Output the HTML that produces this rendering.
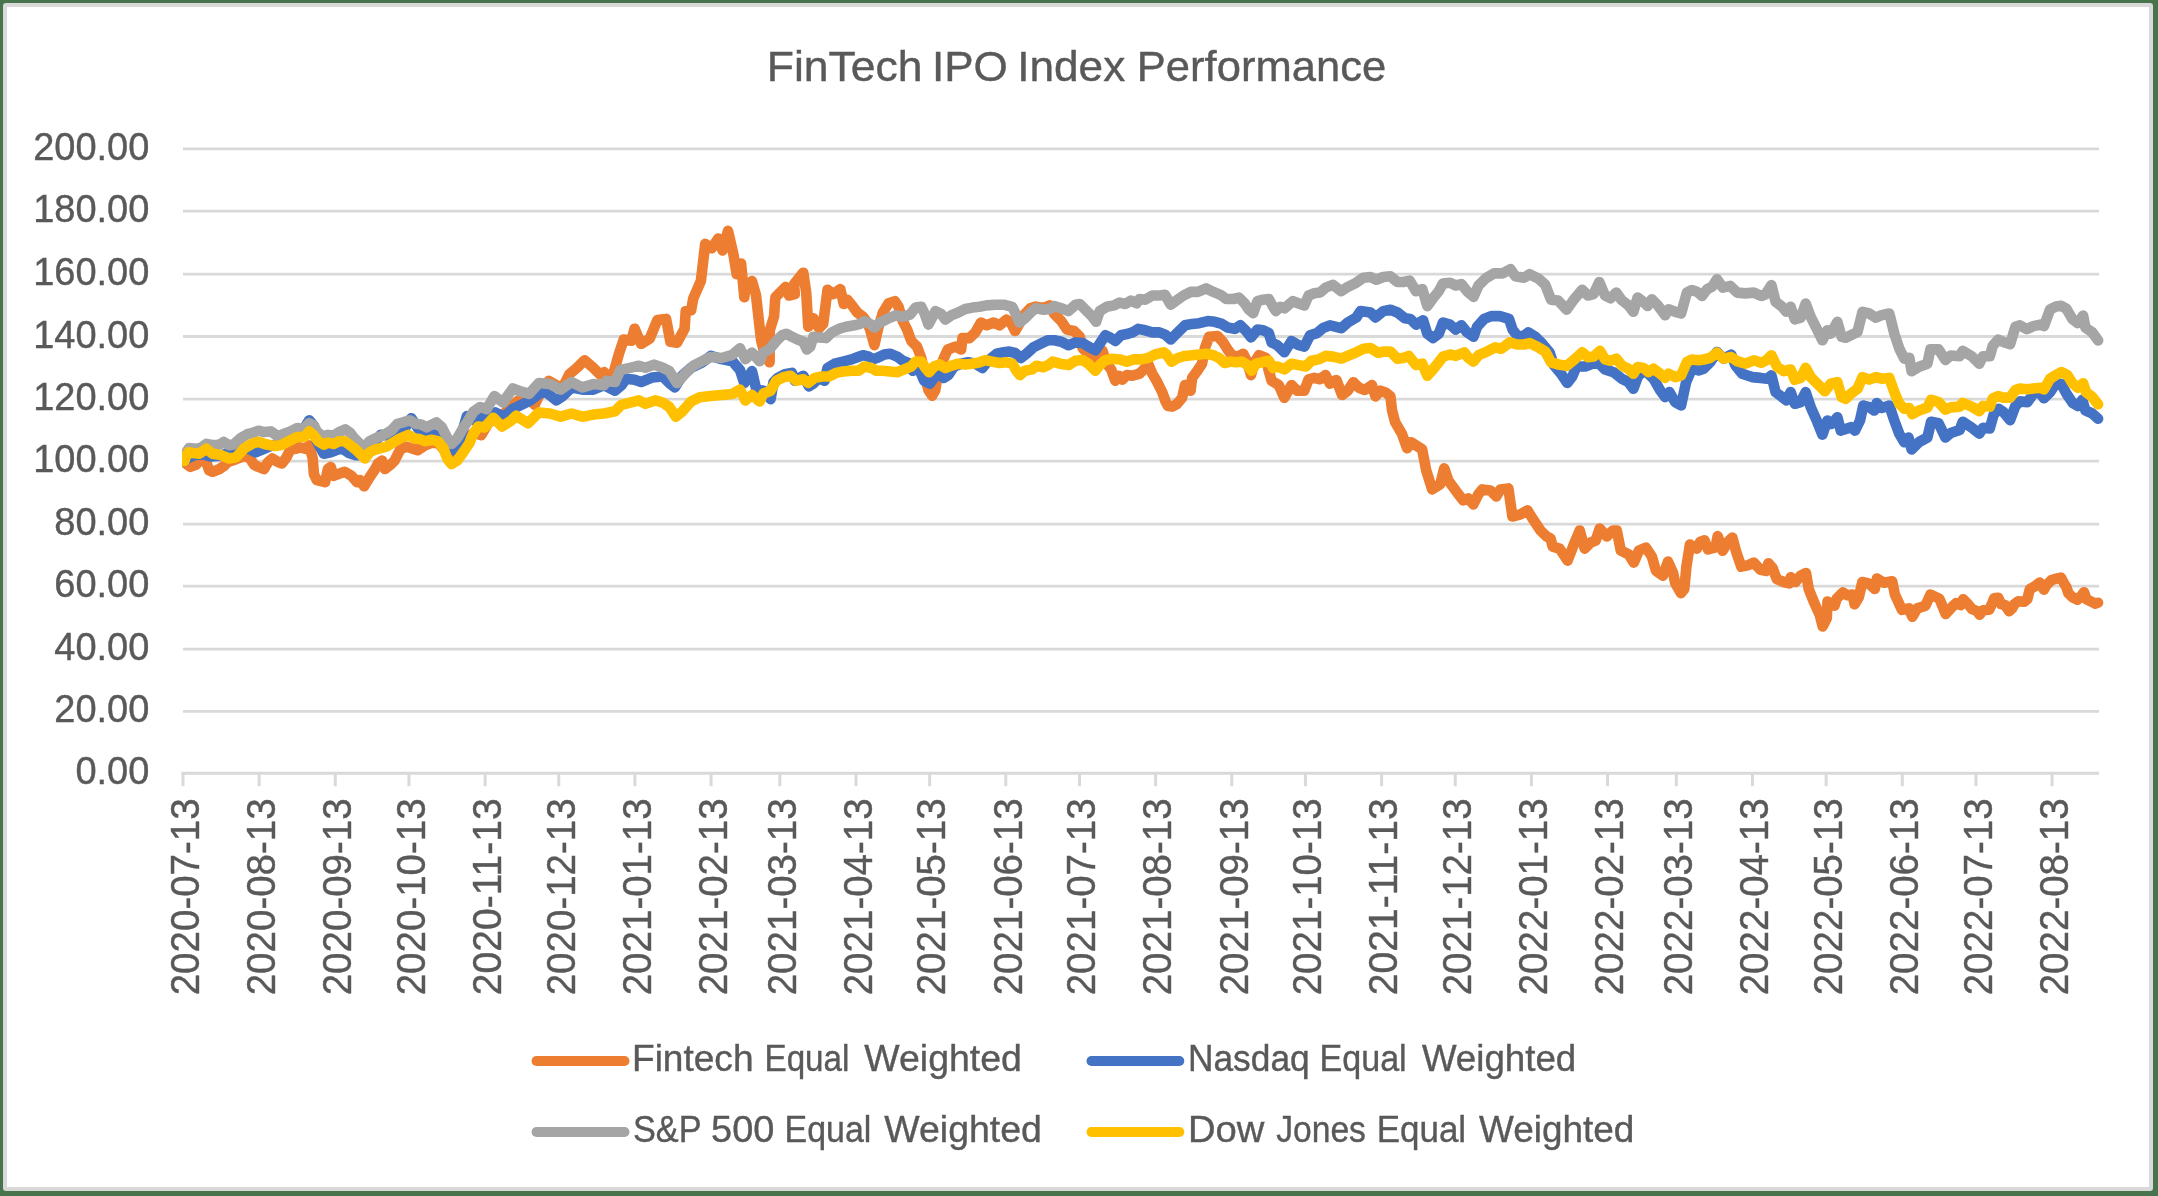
<!DOCTYPE html>
<html><head><meta charset="utf-8"><title>FinTech IPO Index Performance</title><style>html,body{margin:0;padding:0;background:#fff}body{width:2158px;height:1196px;overflow:hidden}svg{display:block;will-change:transform}text{font-family:"Liberation Sans",sans-serif;fill:#595959;stroke:#595959;stroke-width:0.4px}</style></head><body>
<svg width="2158" height="1196" viewBox="0 0 2158 1196">
<rect x="0" y="0" width="2158" height="1196" fill="#48744D"/>
<rect x="3" y="3" width="2150" height="1188" rx="3" ry="3" fill="#D9D9D9"/>
<rect x="7" y="7" width="2142" height="1180" fill="#FFFFFF"/>
<line x1="183.0" y1="711.40" x2="2099.0" y2="711.40" stroke="#D9D9D9" stroke-width="2.8"/>
<line x1="183.0" y1="649.20" x2="2099.0" y2="649.20" stroke="#D9D9D9" stroke-width="2.8"/>
<line x1="183.0" y1="586.20" x2="2099.0" y2="586.20" stroke="#D9D9D9" stroke-width="2.8"/>
<line x1="183.0" y1="524.20" x2="2099.0" y2="524.20" stroke="#D9D9D9" stroke-width="2.8"/>
<line x1="183.0" y1="461.20" x2="2099.0" y2="461.20" stroke="#D9D9D9" stroke-width="2.8"/>
<line x1="183.0" y1="399.10" x2="2099.0" y2="399.10" stroke="#D9D9D9" stroke-width="2.8"/>
<line x1="183.0" y1="336.50" x2="2099.0" y2="336.50" stroke="#D9D9D9" stroke-width="2.8"/>
<line x1="183.0" y1="274.20" x2="2099.0" y2="274.20" stroke="#D9D9D9" stroke-width="2.8"/>
<line x1="183.0" y1="211.20" x2="2099.0" y2="211.20" stroke="#D9D9D9" stroke-width="2.8"/>
<line x1="183.0" y1="148.90" x2="2099.0" y2="148.90" stroke="#D9D9D9" stroke-width="2.8"/>
<line x1="181.5" y1="773.30" x2="2099.0" y2="773.30" stroke="#D9D9D9" stroke-width="3"/>
<line x1="183.00" y1="773.30" x2="183.00" y2="786.20" stroke="#D9D9D9" stroke-width="3"/>
<line x1="259.14" y1="773.30" x2="259.14" y2="786.20" stroke="#D9D9D9" stroke-width="3"/>
<line x1="335.28" y1="773.30" x2="335.28" y2="786.20" stroke="#D9D9D9" stroke-width="3"/>
<line x1="408.96" y1="773.30" x2="408.96" y2="786.20" stroke="#D9D9D9" stroke-width="3"/>
<line x1="485.10" y1="773.30" x2="485.10" y2="786.20" stroke="#D9D9D9" stroke-width="3"/>
<line x1="558.78" y1="773.30" x2="558.78" y2="786.20" stroke="#D9D9D9" stroke-width="3"/>
<line x1="634.92" y1="773.30" x2="634.92" y2="786.20" stroke="#D9D9D9" stroke-width="3"/>
<line x1="711.06" y1="773.30" x2="711.06" y2="786.20" stroke="#D9D9D9" stroke-width="3"/>
<line x1="779.83" y1="773.30" x2="779.83" y2="786.20" stroke="#D9D9D9" stroke-width="3"/>
<line x1="855.97" y1="773.30" x2="855.97" y2="786.20" stroke="#D9D9D9" stroke-width="3"/>
<line x1="929.65" y1="773.30" x2="929.65" y2="786.20" stroke="#D9D9D9" stroke-width="3"/>
<line x1="1005.79" y1="773.30" x2="1005.79" y2="786.20" stroke="#D9D9D9" stroke-width="3"/>
<line x1="1079.48" y1="773.30" x2="1079.48" y2="786.20" stroke="#D9D9D9" stroke-width="3"/>
<line x1="1155.62" y1="773.30" x2="1155.62" y2="786.20" stroke="#D9D9D9" stroke-width="3"/>
<line x1="1231.75" y1="773.30" x2="1231.75" y2="786.20" stroke="#D9D9D9" stroke-width="3"/>
<line x1="1305.44" y1="773.30" x2="1305.44" y2="786.20" stroke="#D9D9D9" stroke-width="3"/>
<line x1="1381.58" y1="773.30" x2="1381.58" y2="786.20" stroke="#D9D9D9" stroke-width="3"/>
<line x1="1455.26" y1="773.30" x2="1455.26" y2="786.20" stroke="#D9D9D9" stroke-width="3"/>
<line x1="1531.40" y1="773.30" x2="1531.40" y2="786.20" stroke="#D9D9D9" stroke-width="3"/>
<line x1="1607.54" y1="773.30" x2="1607.54" y2="786.20" stroke="#D9D9D9" stroke-width="3"/>
<line x1="1676.31" y1="773.30" x2="1676.31" y2="786.20" stroke="#D9D9D9" stroke-width="3"/>
<line x1="1752.45" y1="773.30" x2="1752.45" y2="786.20" stroke="#D9D9D9" stroke-width="3"/>
<line x1="1826.13" y1="773.30" x2="1826.13" y2="786.20" stroke="#D9D9D9" stroke-width="3"/>
<line x1="1902.27" y1="773.30" x2="1902.27" y2="786.20" stroke="#D9D9D9" stroke-width="3"/>
<line x1="1975.95" y1="773.30" x2="1975.95" y2="786.20" stroke="#D9D9D9" stroke-width="3"/>
<line x1="2052.09" y1="773.30" x2="2052.09" y2="786.20" stroke="#D9D9D9" stroke-width="3"/>
<text x="149.4" y="784.30" font-size="38" text-anchor="end">0.00</text>
<text x="149.4" y="722.40" font-size="38" text-anchor="end">20.00</text>
<text x="149.4" y="660.20" font-size="38" text-anchor="end">40.00</text>
<text x="149.4" y="597.20" font-size="38" text-anchor="end">60.00</text>
<text x="149.4" y="535.20" font-size="38" text-anchor="end">80.00</text>
<text x="149.4" y="472.20" font-size="38" text-anchor="end">100.00</text>
<text x="149.4" y="410.10" font-size="38" text-anchor="end">120.00</text>
<text x="149.4" y="347.50" font-size="38" text-anchor="end">140.00</text>
<text x="149.4" y="285.20" font-size="38" text-anchor="end">160.00</text>
<text x="149.4" y="222.20" font-size="38" text-anchor="end">180.00</text>
<text x="149.4" y="159.90" font-size="38" text-anchor="end">200.00</text>
<text transform="translate(198.80,995.3) rotate(-90)" font-size="40" textLength="197" lengthAdjust="spacingAndGlyphs">2020-07-13</text>
<text transform="translate(274.94,995.3) rotate(-90)" font-size="40" textLength="197" lengthAdjust="spacingAndGlyphs">2020-08-13</text>
<text transform="translate(351.08,995.3) rotate(-90)" font-size="40" textLength="197" lengthAdjust="spacingAndGlyphs">2020-09-13</text>
<text transform="translate(424.76,995.3) rotate(-90)" font-size="40" textLength="197" lengthAdjust="spacingAndGlyphs">2020-10-13</text>
<text transform="translate(500.90,995.3) rotate(-90)" font-size="40" textLength="197" lengthAdjust="spacingAndGlyphs">2020-11-13</text>
<text transform="translate(574.58,995.3) rotate(-90)" font-size="40" textLength="197" lengthAdjust="spacingAndGlyphs">2020-12-13</text>
<text transform="translate(650.72,995.3) rotate(-90)" font-size="40" textLength="197" lengthAdjust="spacingAndGlyphs">2021-01-13</text>
<text transform="translate(726.86,995.3) rotate(-90)" font-size="40" textLength="197" lengthAdjust="spacingAndGlyphs">2021-02-13</text>
<text transform="translate(795.63,995.3) rotate(-90)" font-size="40" textLength="197" lengthAdjust="spacingAndGlyphs">2021-03-13</text>
<text transform="translate(871.77,995.3) rotate(-90)" font-size="40" textLength="197" lengthAdjust="spacingAndGlyphs">2021-04-13</text>
<text transform="translate(945.45,995.3) rotate(-90)" font-size="40" textLength="197" lengthAdjust="spacingAndGlyphs">2021-05-13</text>
<text transform="translate(1021.59,995.3) rotate(-90)" font-size="40" textLength="197" lengthAdjust="spacingAndGlyphs">2021-06-13</text>
<text transform="translate(1095.28,995.3) rotate(-90)" font-size="40" textLength="197" lengthAdjust="spacingAndGlyphs">2021-07-13</text>
<text transform="translate(1171.42,995.3) rotate(-90)" font-size="40" textLength="197" lengthAdjust="spacingAndGlyphs">2021-08-13</text>
<text transform="translate(1247.55,995.3) rotate(-90)" font-size="40" textLength="197" lengthAdjust="spacingAndGlyphs">2021-09-13</text>
<text transform="translate(1321.24,995.3) rotate(-90)" font-size="40" textLength="197" lengthAdjust="spacingAndGlyphs">2021-10-13</text>
<text transform="translate(1397.38,995.3) rotate(-90)" font-size="40" textLength="197" lengthAdjust="spacingAndGlyphs">2021-11-13</text>
<text transform="translate(1471.06,995.3) rotate(-90)" font-size="40" textLength="197" lengthAdjust="spacingAndGlyphs">2021-12-13</text>
<text transform="translate(1547.20,995.3) rotate(-90)" font-size="40" textLength="197" lengthAdjust="spacingAndGlyphs">2022-01-13</text>
<text transform="translate(1623.34,995.3) rotate(-90)" font-size="40" textLength="197" lengthAdjust="spacingAndGlyphs">2022-02-13</text>
<text transform="translate(1692.11,995.3) rotate(-90)" font-size="40" textLength="197" lengthAdjust="spacingAndGlyphs">2022-03-13</text>
<text transform="translate(1768.25,995.3) rotate(-90)" font-size="40" textLength="197" lengthAdjust="spacingAndGlyphs">2022-04-13</text>
<text transform="translate(1841.93,995.3) rotate(-90)" font-size="40" textLength="197" lengthAdjust="spacingAndGlyphs">2022-05-13</text>
<text transform="translate(1918.07,995.3) rotate(-90)" font-size="40" textLength="197" lengthAdjust="spacingAndGlyphs">2022-06-13</text>
<text transform="translate(1991.75,995.3) rotate(-90)" font-size="40" textLength="197" lengthAdjust="spacingAndGlyphs">2022-07-13</text>
<text transform="translate(2067.89,995.3) rotate(-90)" font-size="40" textLength="197" lengthAdjust="spacingAndGlyphs">2022-08-13</text>
<text x="766.80" y="80.8" font-size="43" textLength="155.80" lengthAdjust="spacingAndGlyphs">FinTech</text>
<text x="932.00" y="80.8" font-size="43" textLength="75.80" lengthAdjust="spacingAndGlyphs">IPO</text>
<text x="1017.20" y="80.8" font-size="43" textLength="108.10" lengthAdjust="spacingAndGlyphs">Index</text>
<text x="1136.80" y="80.8" font-size="43" textLength="249.40" lengthAdjust="spacingAndGlyphs">Performance</text>
<text x="632.00" y="1071.3" font-size="37.8" textLength="121.50" lengthAdjust="spacingAndGlyphs">Fintech</text>
<text x="764.50" y="1071.3" font-size="37.8" textLength="84.90" lengthAdjust="spacingAndGlyphs">Equal</text>
<text x="864.30" y="1071.3" font-size="37.8" textLength="157.60" lengthAdjust="spacingAndGlyphs">Weighted</text>
<text x="633.00" y="1142.3" font-size="37.8" textLength="68.60" lengthAdjust="spacingAndGlyphs">S&amp;P</text>
<text x="711.10" y="1142.3" font-size="37.8" textLength="63.30" lengthAdjust="spacingAndGlyphs">500</text>
<text x="784.50" y="1142.3" font-size="37.8" textLength="86.80" lengthAdjust="spacingAndGlyphs">Equal</text>
<text x="884.30" y="1142.3" font-size="37.8" textLength="157.60" lengthAdjust="spacingAndGlyphs">Weighted</text>
<text x="1187.90" y="1071.3" font-size="37.8" textLength="121.80" lengthAdjust="spacingAndGlyphs">Nasdaq</text>
<text x="1319.50" y="1071.3" font-size="37.8" textLength="87.20" lengthAdjust="spacingAndGlyphs">Equal</text>
<text x="1421.90" y="1071.3" font-size="37.8" textLength="154.30" lengthAdjust="spacingAndGlyphs">Weighted</text>
<text x="1187.90" y="1142.3" font-size="37.8" textLength="76.40" lengthAdjust="spacingAndGlyphs">Dow</text>
<text x="1276.20" y="1142.3" font-size="37.8" textLength="89.70" lengthAdjust="spacingAndGlyphs">Jones</text>
<text x="1376.70" y="1142.3" font-size="37.8" textLength="89.40" lengthAdjust="spacingAndGlyphs">Equal</text>
<text x="1479.10" y="1142.3" font-size="37.8" textLength="155.30" lengthAdjust="spacingAndGlyphs">Weighted</text>
<defs><clipPath id="pc"><rect x="182" y="100" width="1930" height="680"/></clipPath></defs>
<g clip-path="url(#pc)">
<polyline points="184.2,461.0 186.5,464.0 190.3,466.9 195.9,464.8 202.8,457.8 206.3,462.0 209.1,470.4 212.5,471.8 219.5,469.0 223.7,466.2 227.8,462.0 236.2,459.2 244.5,455.8 250.1,458.5 254.2,464.8 258.4,466.9 264.0,469.0 268.1,462.0 272.3,458.5 277.9,462.0 282.0,463.4 286.2,457.8 290.4,449.5 295.9,448.8 300.1,447.4 305.7,448.8 309.2,445.3 312.6,457.8 314.0,474.5 316.8,480.1 325.1,482.2 327.9,469.0 330.7,466.9 333.5,475.9 339.0,473.8 344.6,471.8 351.6,475.9 357.1,482.2 359.9,480.1 364.1,486.3 369.6,477.3 375.2,469.0 378.0,463.4 382.1,460.6 384.9,469.0 390.5,464.8 394.6,460.6 400.2,449.5 405.8,446.7 411.3,448.1 417.6,450.2 425.2,445.3 432.2,442.6 439.1,443.9 446.1,452.3 451.6,455.1 460.0,449.5 466.9,438.4 473.7,433.0 481.3,435.2 488.9,422.2 502.0,415.7 510.7,407.0 518.3,400.4 528.0,398.3 534.6,404.8 540.0,393.9 548.7,380.9 556.3,385.2 562.8,387.4 569.3,374.3 577.0,367.8 584.6,360.2 593.3,367.8 599.8,374.3 604.1,372.2 610.7,380.9 615.0,367.8 619.3,352.6 623.7,339.6 631.3,340.7 634.6,328.7 641.1,343.9 649.8,338.5 657.4,320.0 666.1,318.9 670.4,341.7 677.0,342.8 684.6,328.7 685.7,311.3 691.1,310.2 693.3,298.3 700.9,280.9 705.2,243.9 711.7,248.3 718.3,238.5 722.6,250.4 728.0,230.9 733.5,254.8 736.7,274.3 741.1,263.5 744.3,297.2 745.0,290.1 752.0,281.1 756.0,295.1 761.1,340.3 765.1,355.3 769.6,362.3 769.8,330.2 774.1,316.2 775.1,300.1 775.6,296.9 785.6,286.9 789.1,295.5 794.8,294.1 794.1,284.1 803.3,272.7 806.2,292.6 808.3,326.7 813.3,318.2 819.0,328.2 823.2,323.9 827.5,289.8 833.2,294.1 840.3,289.1 843.8,304.0 847.4,299.7 853.1,306.8 857.3,312.5 863.0,316.8 867.3,322.5 870.1,329.6 874.4,345.2 878.6,326.7 882.9,312.5 888.6,303.3 895.0,301.2 898.5,306.8 902.8,321.1 907.1,329.6 911.3,341.0 917.0,346.6 921.3,358.0 925.5,377.9 928.4,390.0 932.1,395.7 935.2,390.4 936.8,380.3 940.2,367.8 944.0,357.7 947.8,349.5 955.4,346.6 961.1,349.5 962.5,338.1 969.6,338.1 975.3,332.4 981.0,322.5 986.6,325.3 993.7,322.5 999.4,325.3 1006.5,319.6 1010.8,322.5 1015.1,331.0 1019.3,323.9 1025.0,314.0 1030.7,308.0 1035.7,306.6 1043.5,308.0 1049.9,305.4 1054.2,314.0 1061.3,321.1 1067.0,329.6 1074.1,331.0 1079.8,336.7 1082.6,348.1 1088.3,353.7 1095.4,359.4 1102.5,350.9 1106.8,363.7 1111.1,369.4 1115.3,380.7 1118.9,375.8 1122.4,379.6 1126.7,375.1 1132.4,375.8 1139.5,373.6 1145.2,368.0 1148.0,363.7 1152.3,373.6 1156.5,380.7 1162.2,392.1 1165.8,402.1 1167.9,406.0 1172.2,406.6 1176.6,404.3 1182.1,397.8 1185.0,385.0 1190.6,390.7 1192.1,377.9 1196.3,372.2 1202.0,363.7 1204.9,348.1 1209.1,336.7 1217.6,336.0 1223.3,342.4 1227.6,349.5 1231.9,355.2 1237.5,356.6 1243.2,353.7 1247.5,362.3 1251.0,375.1 1254.6,362.3 1258.9,355.2 1266.0,358.0 1268.8,370.8 1271.6,380.7 1278.7,385.0 1284.4,397.8 1291.5,385.0 1297.2,390.7 1304.3,390.7 1308.6,379.3 1314.3,377.9 1320.0,379.3 1325.6,375.1 1329.9,383.6 1336.4,380.0 1342.1,395.0 1347.7,390.7 1353.4,382.2 1359.1,387.8 1364.8,390.0 1371.9,385.0 1375.5,396.4 1380.4,390.7 1386.1,392.8 1390.4,396.4 1392.0,410.1 1395.1,422.1 1402.1,434.2 1407.1,448.2 1411.1,442.2 1422.1,449.2 1426.2,470.3 1432.2,489.4 1440.2,484.3 1444.2,468.3 1448.2,480.3 1456.3,491.4 1463.3,500.4 1468.3,498.4 1473.3,504.4 1478.3,494.4 1482.3,489.4 1490.4,490.4 1496.4,496.4 1500.4,489.4 1508.4,488.4 1512.4,516.5 1520.5,514.4 1527.5,510.4 1532.5,518.5 1540.5,530.5 1546.6,536.5 1550.6,538.5 1552.6,546.6 1559.6,548.6 1567.6,560.6 1574.6,542.5 1579.7,530.5 1584.7,548.6 1590.7,542.5 1595.7,540.5 1599.7,528.5 1606.8,536.5 1612.8,530.5 1616.8,530.5 1620.8,550.6 1628.8,554.6 1633.8,562.6 1638.9,550.6 1645.9,547.6 1651.9,556.6 1655.9,570.6 1662.9,575.7 1668.0,561.6 1673.0,572.6 1675.3,583.4 1680.9,593.1 1684.3,589.0 1686.4,566.7 1689.9,544.5 1696.8,548.7 1700.3,541.7 1704.5,540.3 1708.0,549.4 1715.6,547.3 1717.7,536.1 1722.6,550.7 1728.1,541.7 1732.3,537.5 1736.5,552.8 1741.3,566.7 1747.6,565.3 1753.8,562.6 1760.1,569.5 1765.7,570.9 1768.4,563.3 1772.6,568.1 1776.8,579.2 1783.7,582.0 1789.3,583.4 1790.7,577.2 1795.5,582.0 1800.4,575.8 1806.0,573.0 1808.7,589.0 1814.3,602.9 1819.9,615.4 1822.7,626.5 1826.8,618.2 1827.5,601.5 1834.5,605.7 1836.6,598.7 1842.8,592.4 1847.0,595.2 1852.5,594.5 1854.6,604.3 1858.8,597.3 1862.3,582.0 1868.5,583.4 1874.8,589.0 1876.9,578.5 1883.8,582.7 1892.2,581.3 1894.9,594.5 1901.9,609.8 1908.8,608.4 1912.3,616.8 1917.2,608.4 1925.5,605.7 1930.4,594.5 1939.4,598.7 1945.7,614.0 1953.3,605.7 1956.1,603.2 1960.6,605.2 1963.1,599.2 1968.1,604.2 1972.1,609.2 1977.1,611.2 1979.6,614.7 1983.2,610.2 1989.2,609.7 1992.2,603.2 1994.2,598.2 1998.2,597.7 2001.2,604.2 2005.2,605.2 2009.2,611.2 2012.3,608.2 2014.3,604.2 2018.3,601.2 2024.3,601.7 2027.3,599.2 2029.8,589.2 2034.3,586.7 2039.8,582.6 2043.9,589.7 2046.4,585.2 2051.4,580.1 2056.4,578.6 2060.9,577.6 2064.4,584.1 2066.4,587.2 2068.4,593.2 2072.5,597.2 2077.5,599.7 2081.0,596.2 2084.0,592.2 2086.5,599.2 2090.5,601.2 2095.5,603.7 2098.0,602.7" fill="none" stroke="#ED7D31" stroke-width="10.6" stroke-linejoin="round" stroke-linecap="round"/>
<polyline points="184.2,461.0 186.5,459.0 193.1,455.8 200.0,453.7 211.1,456.5 220.9,455.8 230.6,451.6 240.3,446.7 250.1,449.5 255.6,452.3 264.0,448.8 272.3,445.3 280.7,443.3 290.4,439.8 300.1,435.6 305.7,425.9 309.2,420.3 314.0,425.9 316.8,441.2 323.7,453.7 330.7,452.3 341.8,448.1 348.8,453.0 355.7,455.1 364.1,455.1 372.4,445.3 380.7,434.9 391.9,435.6 403.0,430.7 411.3,418.2 418.3,428.7 425.2,433.5 433.6,434.2 439.1,437.0 446.1,445.3 453.0,450.2 460.0,439.8 466.9,416.1 473.7,420.0 480.2,417.8 486.7,415.7 495.4,412.4 504.1,416.7 512.8,409.1 521.5,404.8 530.2,400.4 538.9,393.9 545.4,391.7 556.3,400.4 562.8,396.1 571.5,387.4 582.4,389.6 593.3,389.6 604.1,385.2 615.0,390.7 621.5,385.2 625.9,378.7 634.6,379.8 641.1,382.0 652.0,377.6 662.8,376.5 669.3,383.0 674.8,387.4 682.4,375.4 691.1,367.8 702.0,362.4 710.7,355.9 721.5,359.1 732.4,361.3 740.0,370.0 744.3,383.0 752.0,371.1 756.3,389.6 763.5,390.7 770.6,399.2 773.5,382.2 777.7,377.9 784.8,374.3 791.9,372.9 794.8,380.7 799.1,377.9 803.3,375.8 809.0,386.4 813.3,383.6 819.0,377.9 824.6,380.7 827.5,368.0 834.6,363.7 843.1,361.6 851.6,359.4 857.3,357.3 863.0,355.2 868.7,356.6 873.0,359.4 878.6,357.3 884.3,354.5 890.0,353.7 897.1,356.6 902.8,360.8 908.5,363.0 912.7,370.8 917.0,368.0 919.9,370.8 924.1,380.7 929.8,383.6 934.1,377.9 938.3,373.6 944.0,377.9 948.3,375.1 954.0,366.5 961.1,363.7 968.2,362.3 975.3,363.7 982.4,368.0 988.1,360.8 996.6,353.7 1003.7,352.3 1009.4,351.6 1015.1,353.0 1020.8,358.0 1026.4,353.7 1033.5,347.3 1040.6,343.8 1047.8,340.2 1054.2,340.2 1061.3,341.7 1068.4,345.2 1075.5,342.4 1082.6,343.1 1088.3,346.6 1095.4,350.2 1099.7,343.8 1105.4,335.3 1111.1,338.1 1115.3,341.0 1121.0,335.3 1128.1,333.8 1132.4,332.4 1138.1,328.9 1145.2,330.3 1152.3,332.4 1159.4,332.4 1165.1,334.6 1170.7,339.5 1176.4,333.8 1185.0,325.3 1192.1,323.9 1199.2,323.2 1207.7,321.1 1214.8,321.8 1221.9,323.9 1227.6,327.5 1234.7,328.9 1240.4,325.3 1246.1,331.0 1251.0,337.4 1257.4,329.6 1263.1,330.3 1268.8,333.1 1271.6,342.4 1277.3,345.2 1284.4,352.3 1291.5,341.0 1298.6,345.2 1304.3,346.6 1310.0,335.3 1317.1,333.1 1322.8,328.2 1329.9,325.3 1341.3,328.2 1347.7,322.5 1356.3,317.5 1360.5,311.1 1370.5,312.5 1375.5,317.5 1383.3,311.1 1390.4,309.7 1397.5,312.5 1404.6,318.2 1410.3,318.9 1416.0,324.6 1423.1,320.3 1427.3,333.8 1433.0,338.1 1438.7,333.8 1443.0,322.5 1450.1,324.6 1455.7,329.6 1461.4,325.3 1467.1,332.4 1473.5,336.7 1477.1,326.7 1484.2,318.9 1491.3,316.1 1499.8,316.1 1509.0,318.9 1512.6,329.6 1516.9,335.3 1522.5,336.7 1528.2,332.4 1535.3,336.7 1542.4,343.8 1549.5,352.3 1553.8,365.1 1560.9,373.6 1567.3,382.9 1572.3,376.5 1576.5,366.5 1585.1,366.5 1592.2,363.7 1599.3,363.7 1605.0,369.4 1613.5,372.2 1621.7,378.7 1628.4,382.1 1633.4,388.8 1637.6,377.1 1643.4,370.4 1648.5,373.7 1653.5,378.7 1660.2,390.4 1665.2,397.1 1669.4,392.1 1675.2,402.1 1681.1,405.5 1686.1,382.1 1691.9,368.7 1698.6,370.4 1703.6,368.7 1710.3,362.0 1717.0,352.0 1723.7,358.7 1731.2,354.5 1735.4,365.4 1742.1,373.7 1752.1,377.1 1760.5,377.9 1767.2,378.7 1771.4,375.4 1775.6,392.1 1782.2,397.1 1786.4,400.5 1790.6,392.1 1794.8,403.8 1800.6,402.1 1805.7,392.1 1810.7,407.2 1817.4,422.2 1822.4,434.7 1827.4,420.5 1831.6,423.9 1837.4,417.2 1840.8,430.6 1845.8,428.9 1850.8,427.2 1855.0,430.6 1860.0,420.5 1863.3,405.5 1869.2,407.2 1874.2,410.5 1876.7,403.0 1881.7,408.0 1889.3,405.5 1894.3,420.5 1899.3,433.9 1904.3,442.3 1908.5,437.5 1911.6,449.5 1919.1,442.0 1927.4,437.5 1931.1,421.7 1938.6,423.2 1945.4,437.5 1950.7,433.0 1959.7,429.9 1962.7,421.7 1971.7,427.7 1979.3,433.7 1983.0,427.7 1989.8,428.4 1993.6,414.9 1998.8,408.9 2003.3,411.9 2010.1,420.2 2015.4,405.9 2019.9,401.4 2027.4,402.1 2033.4,393.8 2039.5,392.3 2044.0,398.3 2050.0,392.3 2056.0,383.3 2061.3,384.0 2066.5,393.8 2072.6,402.9 2077.8,405.9 2082.3,399.8 2085.4,410.4 2092.1,413.4 2098.1,418.7" fill="none" stroke="#4472C4" stroke-width="10.6" stroke-linejoin="round" stroke-linecap="round"/>
<polyline points="184.2,461.0 186.0,453.0 188.9,448.1 195.9,448.8 200.7,448.1 206.3,443.9 213.9,445.3 219.5,444.6 223.7,441.9 229.2,445.3 233.4,444.6 240.3,438.4 247.3,434.2 252.8,432.8 258.4,430.7 264.0,432.1 270.9,431.4 277.9,436.3 284.8,433.5 290.4,431.4 297.3,428.0 302.9,429.4 309.2,423.1 314.0,425.9 316.8,431.4 322.4,436.3 327.9,434.9 333.5,435.6 339.0,432.1 345.3,429.4 350.2,432.8 354.3,438.4 359.9,443.9 364.8,446.7 369.6,441.2 375.2,438.4 380.7,436.3 386.3,433.5 391.9,430.0 397.4,423.8 403.0,422.4 409.9,420.3 415.5,423.8 421.1,424.5 426.6,427.3 432.2,424.5 436.4,422.4 441.9,427.3 447.5,438.4 451.6,443.9 457.2,438.4 462.8,428.7 468.3,420.3 473.7,411.3 480.2,407.0 486.7,409.1 494.3,396.1 503.0,402.6 512.8,388.5 521.5,391.7 529.1,393.9 538.9,383.0 549.8,384.1 560.7,389.6 571.5,382.0 582.4,387.4 593.3,384.1 604.1,385.2 606.3,380.9 615.0,382.0 620.4,370.0 630.2,367.8 638.9,365.7 645.4,367.8 654.1,364.6 662.8,367.8 669.3,371.1 677.0,383.0 684.6,374.3 693.3,365.7 702.0,361.3 710.7,357.0 721.5,358.0 732.4,354.8 740.0,348.3 745.4,359.1 752.0,352.6 759.6,361.3 763.5,352.3 769.2,349.5 776.3,341.0 782.0,335.3 786.3,333.8 791.9,336.7 797.6,339.5 803.3,341.7 806.9,349.5 810.4,346.6 813.3,336.7 819.0,337.4 826.1,338.1 831.7,332.4 838.8,328.9 846.0,326.7 854.5,325.3 860.2,323.9 864.4,321.1 870.1,323.9 874.4,327.5 880.1,322.5 887.2,318.9 895.7,315.4 902.8,316.8 909.9,314.7 915.6,307.6 921.3,306.8 924.8,314.0 928.4,324.6 932.6,316.8 935.5,311.1 941.2,314.0 945.4,319.6 951.1,315.4 958.2,312.5 965.3,309.0 972.4,307.6 979.5,306.8 986.6,305.4 995.2,304.7 1003.7,304.7 1012.2,306.8 1016.5,315.4 1019.3,322.5 1025.0,318.2 1030.7,312.5 1035.7,308.3 1043.5,309.7 1049.9,309.0 1054.2,306.1 1061.3,308.3 1068.4,311.1 1075.5,304.7 1079.8,304.0 1085.5,309.7 1091.2,315.4 1096.1,321.8 1099.7,311.1 1106.8,306.8 1113.9,305.4 1119.6,302.6 1125.3,304.0 1131.0,300.5 1136.6,303.3 1139.5,299.0 1145.2,299.7 1152.3,295.5 1159.4,295.5 1165.1,294.8 1170.7,304.7 1176.4,300.5 1183.5,295.5 1190.6,291.9 1197.7,291.9 1206.3,288.4 1213.4,291.9 1220.5,294.8 1226.2,299.0 1233.3,299.0 1239.0,297.6 1244.6,303.3 1248.9,309.7 1253.2,313.2 1257.4,301.2 1263.1,299.7 1268.8,299.0 1273.1,306.8 1275.9,311.1 1280.2,306.8 1284.4,308.3 1293.0,301.2 1300.1,304.0 1304.3,305.4 1308.6,295.5 1314.3,293.3 1320.0,292.6 1325.6,287.7 1332.8,284.8 1341.3,291.2 1347.7,286.9 1356.3,282.7 1363.4,277.7 1370.5,277.0 1376.2,279.8 1383.3,277.0 1390.4,276.3 1397.5,282.0 1403.2,282.0 1409.6,280.6 1416.0,291.2 1422.3,289.1 1427.3,306.1 1433.0,298.3 1438.7,291.2 1443.0,283.4 1450.1,282.7 1455.7,285.5 1461.4,284.1 1467.1,291.2 1473.5,296.9 1478.5,285.5 1485.6,278.4 1494.1,273.4 1502.6,273.4 1510.5,269.2 1515.4,276.3 1524.0,277.7 1529.6,274.2 1538.2,278.4 1545.3,284.8 1551.0,299.7 1558.1,300.5 1566.6,309.7 1573.7,299.7 1582.2,289.8 1587.9,295.5 1593.6,294.1 1599.3,282.0 1605.0,295.5 1610.6,298.3 1616.3,292.6 1621.7,300.1 1628.4,305.2 1633.4,311.8 1637.6,297.6 1643.4,301.8 1647.6,306.0 1651.8,299.3 1657.7,305.2 1665.2,315.2 1668.5,309.3 1675.2,311.8 1681.1,313.5 1686.9,292.6 1691.9,290.1 1697.0,291.8 1702.0,296.0 1707.0,289.3 1712.0,286.8 1717.0,279.2 1722.9,287.6 1730.4,285.9 1737.1,292.6 1745.5,293.4 1753.8,292.6 1761.3,296.0 1765.5,294.3 1771.4,285.1 1775.6,301.8 1782.2,306.8 1786.4,311.8 1790.6,306.8 1794.8,319.4 1800.6,317.7 1805.7,303.5 1810.7,316.9 1817.4,330.2 1822.4,340.3 1827.4,330.2 1830.7,333.6 1837.4,321.9 1841.6,336.9 1845.8,337.8 1850.8,335.3 1857.5,331.9 1862.5,311.8 1869.2,313.5 1875.9,317.7 1881.7,315.2 1889.3,313.5 1894.3,333.6 1899.3,348.6 1904.3,358.7 1909.3,357.7 1911.6,371.3 1919.1,366.7 1927.4,363.7 1930.4,349.4 1938.6,349.4 1945.4,360.0 1950.7,355.5 1959.7,356.2 1962.7,350.9 1971.7,356.2 1979.3,363.7 1983.0,356.2 1989.8,356.2 1992.8,345.7 1998.1,339.7 2003.3,341.9 2010.1,344.2 2015.4,326.9 2019.9,325.4 2026.7,329.1 2033.4,326.1 2040.2,324.6 2044.0,326.1 2050.0,309.6 2056.0,306.6 2061.3,305.8 2066.5,308.8 2072.6,319.3 2077.8,323.1 2083.1,315.6 2085.4,327.6 2092.1,332.1 2098.1,340.4" fill="none" stroke="#A5A5A5" stroke-width="10.6" stroke-linejoin="round" stroke-linecap="round"/>
<polyline points="184.2,461.0 186.5,455.0 188.2,452.3 193.1,453.0 199.3,453.7 206.3,448.8 212.5,453.7 220.9,455.1 229.2,458.5 236.2,457.2 244.5,448.1 252.8,443.3 258.4,441.9 266.8,444.6 275.1,446.0 280.7,445.3 286.2,442.6 293.2,439.1 297.3,437.0 304.3,437.0 309.2,431.4 314.0,435.6 318.2,441.2 323.7,444.6 327.9,442.6 333.5,443.9 339.0,441.2 344.6,441.2 350.2,445.3 355.7,449.5 361.3,455.1 364.8,458.5 369.6,452.3 375.2,449.5 380.7,448.1 386.3,446.7 391.9,443.3 400.2,438.4 408.5,434.9 414.1,438.4 419.7,439.1 425.2,441.2 432.2,439.8 437.7,441.2 443.3,448.1 447.5,459.2 451.6,464.1 457.2,460.6 464.2,450.9 469.7,442.6 471.5,437.4 478.0,426.5 484.6,427.6 493.3,417.8 502.0,426.5 510.7,421.1 516.1,415.7 528.0,423.3 538.9,412.4 549.8,413.5 560.7,416.7 571.5,413.5 582.4,416.7 593.3,414.6 604.1,413.5 615.0,411.3 621.5,404.8 630.2,402.6 638.9,400.4 645.4,403.7 655.2,400.4 662.8,402.6 669.3,407.0 675.9,416.7 682.4,411.3 691.1,401.5 699.8,397.2 710.7,396.1 721.5,395.0 732.4,393.9 740.0,389.6 745.4,400.4 752.0,395.0 759.6,401.5 763.5,393.5 770.6,390.7 776.3,380.7 783.4,377.2 790.5,375.8 796.2,380.7 803.3,379.3 808.3,382.9 814.7,377.9 821.8,376.5 828.9,376.5 836.0,372.9 843.1,371.5 851.6,370.8 858.7,370.8 864.4,366.5 871.5,368.0 876.5,370.8 882.9,370.8 890.0,371.5 897.1,372.2 904.2,369.4 911.3,366.5 915.6,361.6 921.3,361.6 925.5,368.0 929.1,372.2 934.1,366.5 939.7,364.4 945.4,368.0 951.1,365.8 958.2,363.7 965.3,364.4 972.4,363.7 979.5,362.3 985.2,360.1 992.3,361.6 999.4,363.0 1006.5,362.3 1012.2,363.7 1016.5,370.8 1020.0,375.1 1025.0,370.8 1032.1,369.4 1036.4,365.8 1043.5,367.2 1049.2,364.4 1052.8,361.6 1059.9,363.7 1068.4,365.1 1075.5,360.8 1082.6,360.1 1088.3,363.7 1095.4,370.8 1099.7,365.1 1105.4,360.1 1112.5,358.7 1119.6,359.4 1126.7,361.6 1133.8,359.4 1140.9,359.4 1148.0,358.0 1155.1,354.5 1163.6,352.3 1166.5,354.5 1171.5,361.6 1177.8,358.0 1185.0,355.9 1192.1,355.2 1199.2,354.5 1206.3,353.7 1213.4,355.2 1219.1,358.0 1224.7,363.0 1230.4,361.6 1236.1,362.3 1241.8,361.6 1247.5,365.1 1251.7,370.8 1256.0,363.7 1261.7,362.3 1268.8,360.8 1273.1,368.0 1277.3,366.5 1284.4,369.4 1291.5,363.7 1298.6,365.1 1305.8,366.5 1311.4,360.8 1318.5,359.4 1325.6,355.9 1332.8,356.6 1341.3,358.7 1347.7,355.9 1356.3,352.3 1363.4,348.8 1370.5,348.1 1378.3,353.0 1383.3,351.6 1390.4,351.6 1397.5,358.7 1403.2,358.0 1408.8,355.9 1416.0,365.1 1422.3,363.7 1427.3,375.8 1433.0,369.4 1438.7,362.3 1443.0,356.6 1450.1,354.5 1455.7,355.9 1464.3,352.3 1468.5,358.0 1473.5,361.6 1478.5,355.2 1487.0,351.6 1495.5,347.3 1501.2,348.8 1509.7,342.4 1516.9,344.5 1524.0,344.5 1529.6,343.1 1538.2,347.3 1545.3,351.6 1551.0,362.3 1558.1,364.4 1566.6,365.8 1573.7,360.1 1582.2,352.3 1587.9,357.3 1593.6,356.6 1600.0,350.9 1605.0,359.4 1610.6,360.8 1616.3,358.7 1621.7,365.4 1628.4,368.7 1633.4,373.7 1637.6,367.0 1643.4,367.9 1648.5,372.0 1653.5,368.7 1660.2,373.7 1665.2,377.9 1668.5,373.7 1675.2,377.1 1681.1,375.4 1686.9,362.0 1691.9,359.5 1698.6,360.3 1703.6,359.5 1710.3,357.8 1717.0,352.8 1723.7,358.7 1731.2,357.0 1737.1,361.2 1745.5,363.7 1753.8,360.3 1761.3,362.8 1766.4,360.3 1771.4,355.3 1777.2,367.0 1783.9,371.2 1790.6,369.5 1794.8,379.6 1800.6,377.9 1805.7,367.9 1810.7,377.1 1817.4,383.7 1824.9,391.3 1830.7,383.7 1837.4,382.1 1841.6,397.1 1845.8,398.8 1850.8,393.8 1857.5,388.8 1862.5,377.1 1869.2,379.6 1875.9,377.1 1881.7,378.7 1889.3,377.9 1894.3,392.1 1899.3,403.8 1904.3,408.8 1909.3,408.1 1912.3,414.1 1919.1,410.4 1927.4,407.4 1931.1,399.8 1938.6,402.1 1945.4,409.6 1950.7,407.4 1959.7,406.6 1962.7,402.9 1971.7,406.6 1979.3,411.1 1983.0,405.9 1989.8,406.6 1992.8,398.3 1998.1,396.1 2003.3,397.6 2010.1,397.6 2015.4,390.1 2019.9,388.6 2027.4,389.3 2033.4,388.6 2040.2,387.8 2044.0,389.3 2050.0,378.8 2056.0,375.0 2061.3,372.0 2067.3,375.0 2072.6,383.3 2077.8,387.8 2083.1,383.3 2086.1,392.3 2092.1,396.8 2098.1,404.4" fill="none" stroke="#FFC000" stroke-width="10.6" stroke-linejoin="round" stroke-linecap="round"/>
</g>
<line x1="536.5" y1="1061.0" x2="624.5" y2="1061.0" stroke="#ED7D31" stroke-width="10" stroke-linecap="round"/>
<line x1="536.5" y1="1132.0" x2="624.5" y2="1132.0" stroke="#A5A5A5" stroke-width="10" stroke-linecap="round"/>
<line x1="1091.5" y1="1061.0" x2="1179.3" y2="1061.0" stroke="#4472C4" stroke-width="10" stroke-linecap="round"/>
<line x1="1091.5" y1="1132.0" x2="1179.3" y2="1132.0" stroke="#FFC000" stroke-width="10" stroke-linecap="round"/>
</svg></body></html>
